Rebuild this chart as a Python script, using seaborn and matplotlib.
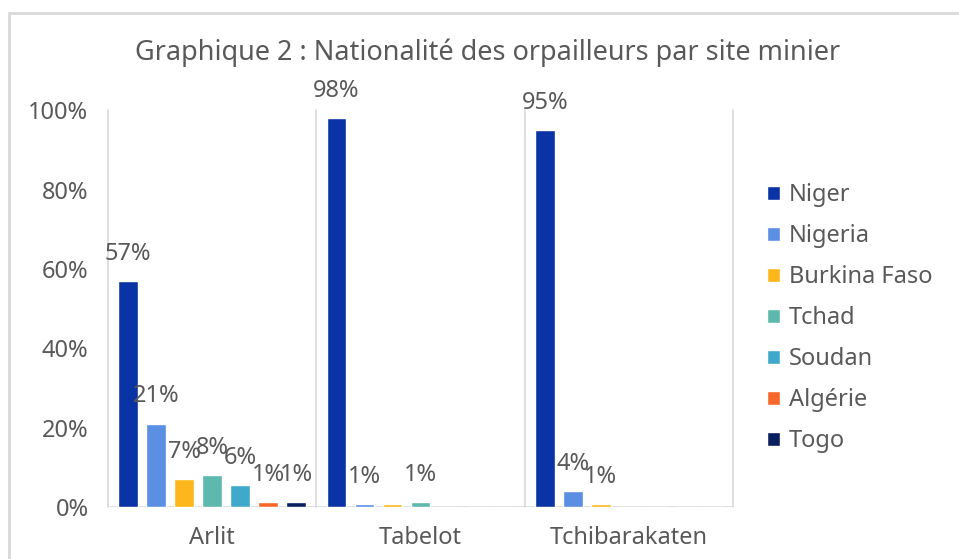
import pandas as pd
import seaborn as sns
import matplotlib.pyplot as plt

# --- data ---
sites = ['Arlit', 'Tabelot', 'Tchibarakaten']
nationalities = ['Niger', 'Nigeria', 'Burkina Faso', 'Tchad', 'Soudan', 'Algérie', 'Togo']

# share of gold miners per nationality, one list per site (fractions)
arlit = [0.57, 0.21, 0.07, 0.08, 0.055, 0.012, 0.012]
tabelot = [0.98, 0.008, 0.008, 0.012, 0, 0, 0]
tchibarakaten = [0.95, 0.04, 0.008, 0, 0, 0, 0]

# labels printed above each bar ('' = no label in the original)
arlit_labels = ['57%', '21%', '7%', '8%', '6%', '1%', '1%']
tabelot_labels = ['98%', '1%', '', '1%', '', '', '']
tchibarakaten_labels = ['95%', '4%', '1%', '', '', '', '']

colors = ['#0A33A5', '#5B8FE3', '#FDB71C', '#5DB8AE', '#3FA8CB', '#F8672A', '#0B1F5E']

rows = []
for site, vals in zip(sites, [arlit, tabelot, tchibarakaten]):
    for nat, v in zip(nationalities, vals):
        rows.append({'site': site, 'nationality': nat, 'share': v})
df = pd.DataFrame(rows)
labels_by_site = dict(zip(sites, [arlit_labels, tabelot_labels, tchibarakaten_labels]))

sns.set_style('white')
plt.rcParams['font.family'] = ['Noto Sans', 'DejaVu Sans']
txt = '#595959'

fig = plt.figure(figsize=(9.59, 5.59), dpi=100)
ax = fig.add_axes([0.1126, 0.093, 0.6517, 0.710])

sns.barplot(data=df, x='site', y='share', hue='nationality', order=sites,
            hue_order=nationalities, palette=colors, width=0.94, gap=0.3,
            saturation=1, ax=ax, legend=True)

# value labels
for i, cont in enumerate(ax.containers):
    labs = [labels_by_site[s][i] for s in sites]
    ax.bar_label(cont, labels=labs, padding=11, fontsize=17, color=txt)

ax.set_ylim(0, 1)
ax.set_xlim(-0.5, 2.5)
ax.set_yticks([0, 0.2, 0.4, 0.6, 0.8, 1.0])
ax.set_yticklabels(['0%', '20%', '40%', '60%', '80%', '100%'])
ax.tick_params(axis='both', length=0, labelsize=17, labelcolor=txt)
ax.tick_params(axis='x', pad=14)
ax.tick_params(axis='y', pad=14)
ax.set_xlabel('')
ax.set_ylabel('')

for s in ax.spines.values():
    s.set_visible(False)
for xpos in [-0.5, 0.5, 1.5, 2.5]:
    ax.axvline(xpos, color='#D9D9D9', lw=1.2, zorder=0, clip_on=False)
ax.axhline(0, color='#D9D9D9', lw=1.2, zorder=0)

leg = ax.legend(loc='upper left', bbox_to_anchor=(1.02, 0.87), frameon=False,
                fontsize=17, labelcolor=txt, handlelength=0.55, handleheight=0.55,
                handletextpad=0.4, labelspacing=0.72)

fig.text(0.508, 0.905, 'Graphique 2 : Nationalité des orpailleurs par site minier',
         ha='center', va='center', fontsize=19.5, color=txt)

# outer chart frame
fig.patches.append(plt.Rectangle((0.009, -0.05), 1.2, 1.027, transform=fig.transFigure,
                                 fill=False, edgecolor='#D9D9D9', lw=2))

fig.savefig('out.png', dpi=100)
